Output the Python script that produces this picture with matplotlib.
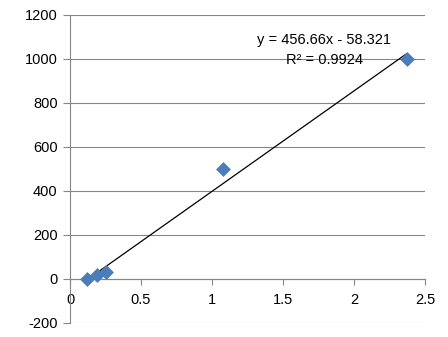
import matplotlib.pyplot as plt
import numpy as np

x_vals = [0.12, 0.19, 0.25, 1.08, 2.37]
y_vals = [0, 20, 30, 500, 1000]
slope = 456.66
intercept = -58.321
eq_lines = ["y = 456.66x - 58.321", "R² = 0.9924"]
y_ticks = [-200, 0, 200, 400, 600, 800, 1000, 1200]
x_ticks = [0, 0.5, 1, 1.5, 2, 2.5]

plt.rcParams["font.family"] = ["Liberation Sans", "DejaVu Sans"]
plt.rcParams["axes.unicode_minus"] = False

fig = plt.figure(figsize=(4.48, 3.37), dpi=100)
ax = fig.add_axes([70 / 448, 1 - 323 / 337, 355 / 448, 308 / 337])

ax.scatter(x_vals, y_vals, marker="D", s=50, color="#4A7EBB", zorder=3,
           edgecolors="#4A7EBB", linewidths=0.5)

xs = np.array([min(x_vals), max(x_vals)])
ax.plot(xs, slope * xs + intercept, color="black", linewidth=0.9, zorder=2)

ax.set_xlim(0, 2.5)
ax.set_ylim(-200, 1200)
ax.set_xticks(x_ticks)
ax.set_xticklabels(["0", "0.5", "1", "1.5", "2", "2.5"])
ax.set_yticks(y_ticks)
ax.grid(axis="y", color="#868686", linewidth=0.8)
ax.set_axisbelow(True)

for s in ["top", "right"]:
    ax.spines[s].set_visible(False)
ax.spines["bottom"].set_position(("data", 0))
ax.spines["bottom"].set_color("#868686")
ax.spines["left"].set_color("#868686")
ax.tick_params(axis="y", length=5, color="#868686", labelsize=10.5, pad=4)
ax.tick_params(axis="x", length=4, color="#868686", labelsize=10.5, pad=6)

ax.text(1.79, 1085, eq_lines[0], ha="center", va="center", fontsize=10.5)
ax.text(1.79, 997, eq_lines[1], ha="center", va="center", fontsize=10.5)

fig.savefig("out.png", dpi=100)
